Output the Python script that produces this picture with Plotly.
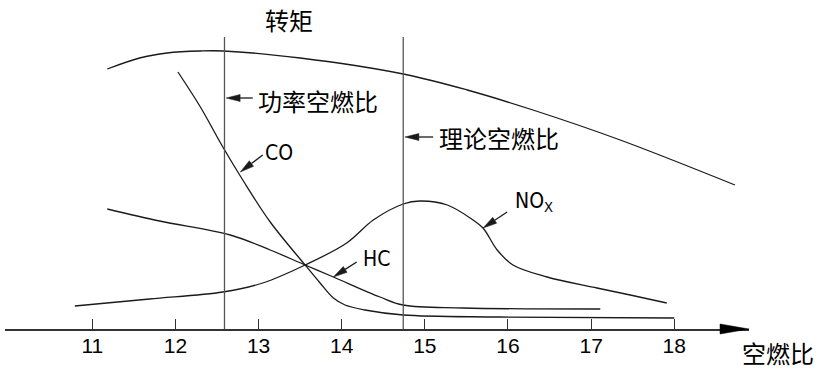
import plotly.graph_objects as go

# ---------------- data (air-fuel ratio vs. relative level) ----------------
torque_x = [11.18, 11.57, 11.90, 12.30, 12.58, 13.50, 14.74, 15.51, 16.30, 17.35, 18.73]
torque_y = [260, 271, 276, 278, 278, 271, 255, 239, 219, 189, 144]

co_x = [12.03, 12.30, 12.57, 12.81, 13.14, 13.56, 13.74, 13.90, 14.04, 14.28, 14.74, 15.90, 18.00]
co_y = [257, 222, 182, 149, 107, 64, 46, 31, 24, 19, 14, 12, 11]

hc_x = [11.18, 11.81, 12.66, 13.14, 13.56, 13.90, 14.46, 14.74, 15.46, 17.11]
hc_y = [120, 108, 94, 79, 64, 52, 32, 24, 21, 20]

nox_x = [10.79, 11.69, 12.57, 13.05, 13.56, 14.06, 14.38, 14.74, 14.94, 15.27,
         15.58, 15.70, 15.87, 16.06, 16.47, 17.07, 17.47, 17.91]
nox_y = [23, 30, 37, 46, 64, 86, 109, 125, 128, 124, 109, 101, 79, 64, 52, 41, 34, 26]

power_afr = 12.59
stoich_afr = 14.74
ref_top = 292

tick_vals = [11, 12, 13, 14, 15, 16, 17, 18]
tick_text = ["11", "12", "13", "14", "15", "16", "17", "18"]

# label text, text position (x, y), text anchor, arrow tail, arrow tip
labels = [
    ("功率空燃比", (13.71, 229), "center", (12.93, 231), (12.61, 231)),
    ("理论空燃比", (15.89, 192), "center", (15.10, 192), (14.76, 192)),
    ("CO", (13.24, 176), "center", (13.05, 174), (12.78, 157)),
    ("HC", (14.42, 70), "center", (14.18, 67), (13.90, 52)),
    ("NO<sub>X</sub>", (16.06, 127), "left", (15.99, 117), (15.70, 101)),
]

# ---------------- layout geometry ----------------
W, H = 821, 374
ML, MR, MT, MB = 5, 72, 0, 45
PW, PH = W - ML - MR, H - MT - MB
X0 = 9.95
X1 = X0 + PW * (8.6 / 715)
Y0, Y1 = 0, 329

def to_px(x, y):
    return (ML + (x - X0) / (X1 - X0) * PW, MT + (Y1 - y) / (Y1 - Y0) * PH)

def to_data(px, py):
    return (X0 + (px - ML) / PW * (X1 - X0), Y1 - (py - MT) / PH * (Y1 - Y0))

def to_paper(px, py):
    return ((px - ML) / PW, (H - MB - py) / PH)

line_col = "#1a1a1a"
fig = go.Figure()

for xs, ys in [(torque_x, torque_y), (co_x, co_y), (hc_x, hc_y), (nox_x, nox_y)]:
    fig.add_trace(go.Scatter(x=xs, y=ys, mode="lines",
                             line=dict(color=line_col, width=1.3, shape="spline", smoothing=1.0),
                             hoverinfo="skip", showlegend=False))

for afr in [power_afr, stoich_afr]:
    fig.add_trace(go.Scatter(x=[afr, afr], y=[0, ref_top], mode="lines",
                             line=dict(color="#555555", width=1.3),
                             hoverinfo="skip", showlegend=False))

shapes = []
annotations = []

def arrow(tail, tip, head_len=14, half_w=3.5):
    tx, ty = to_px(*tail)
    hx, hy = to_px(*tip)
    dx, dy = hx - tx, hy - ty
    L = (dx * dx + dy * dy) ** 0.5
    ux, uy = dx / L, dy / L
    bx, by = hx - ux * head_len, hy - uy * head_len
    nx, ny = -uy, ux
    p1 = to_data(bx + nx * half_w, by + ny * half_w)
    p2 = to_data(bx - nx * half_w, by - ny * half_w)
    b = to_data(bx, by)
    shapes.append(dict(type="line", xref="x", yref="y", x0=tail[0], y0=tail[1],
                       x1=b[0], y1=b[1], line=dict(color=line_col, width=1.3)))
    shapes.append(dict(type="path", xref="x", yref="y",
                       path=f"M{tip[0]},{tip[1]} L{p1[0]},{p1[1]} L{p2[0]},{p2[1]} Z",
                       fillcolor=line_col, line=dict(color=line_col, width=0.5)))

cjk = "Noto Sans CJK SC, sans-serif"
narrow = "Liberation Sans Narrow, Arial Narrow, DejaVu Sans Condensed, sans-serif"

for text, pos, anchor, tail, tip in labels:
    arrow(tail, tip)
    is_cjk = not text.startswith(("CO", "HC", "NO"))
    annotations.append(dict(x=pos[0], y=pos[1], xref="x", yref="y", text=text,
                            showarrow=False, xanchor=anchor, yanchor="middle",
                            font=dict(family=cjk if is_cjk else narrow,
                                      size=24 if is_cjk else 21, color="#000000")))

# title
t = to_paper(289, 19)
annotations.append(dict(x=t[0], y=t[1], xref="paper", yref="paper",
                        text="转矩", showarrow=False, xanchor="center", yanchor="middle",
                        font=dict(family=cjk, size=24, color="#000000")))
# axis title
t = to_paper(778, 352)
annotations.append(dict(x=t[0], y=t[1], xref="paper", yref="paper",
                        text="空燃比", showarrow=False, xanchor="center", yanchor="middle",
                        font=dict(family=cjk, size=24, color="#000000")))

# axis arrow head (paper coordinates)
a_tip = to_paper(749, 329)
a_b1 = to_paper(720, 324)
a_b2 = to_paper(720, 334)
shapes.append(dict(type="path", xref="paper", yref="paper",
                   path=f"M{a_tip[0]},{a_tip[1]} L{a_b1[0]},{a_b1[1]} L{a_b2[0]},{a_b2[1]} Z",
                   fillcolor="#000000", line=dict(color="#000000", width=0.5)))

fig.update_layout(
    width=W, height=H,
    margin=dict(l=ML, r=MR, t=MT, b=MB),
    paper_bgcolor="white", plot_bgcolor="white",
    shapes=shapes, annotations=annotations,
    xaxis=dict(range=[X0, X1], showgrid=False, zeroline=False,
               showline=True, linecolor="#333333", linewidth=1.5,
               ticks="inside", ticklen=10, tickwidth=1.2, tickcolor="#333333",
               tickvals=tick_vals, ticktext=tick_text, ticklabelstandoff=-3,
               tickfont=dict(family="Liberation Sans, Arial, sans-serif", size=21, color="#000000")),
    yaxis=dict(range=[Y0, Y1], visible=False, showgrid=False, zeroline=False),
)

fig.write_html("out.html", config={"displayModeBar": False},
               post_script="document.body.style.margin='0';document.body.style.overflow='hidden';")
